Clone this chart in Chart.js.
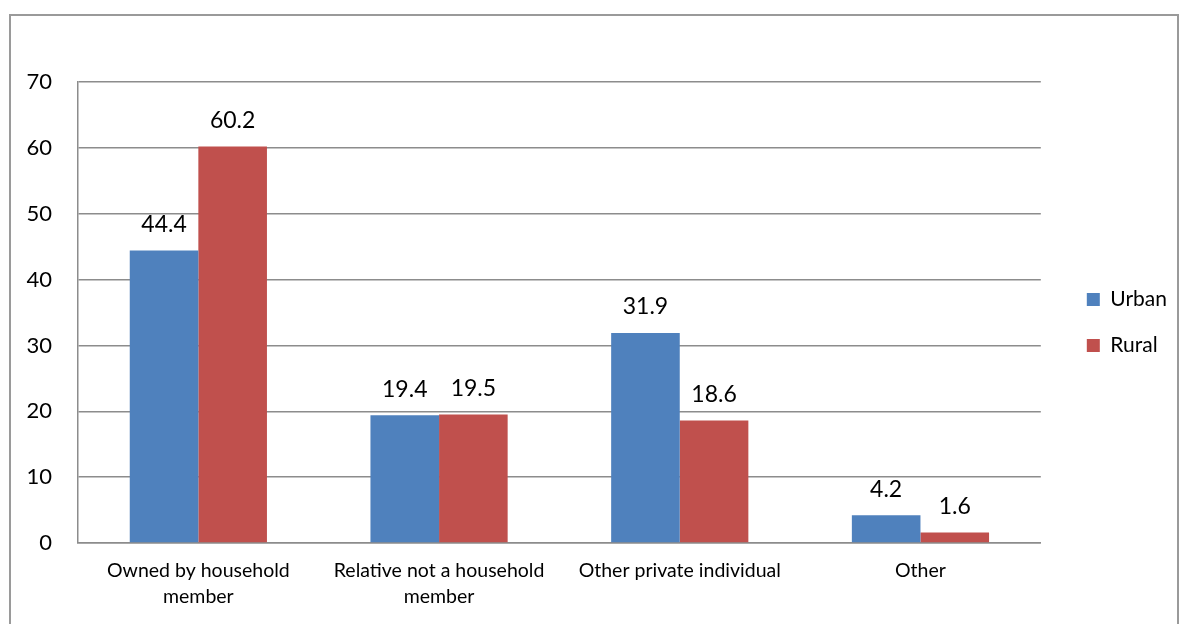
<!DOCTYPE html>
<html>
<head>
<meta charset="utf-8">
<script src="https://cdn.jsdelivr.net/npm/chart.js@4"></script>
<style>
  html, body { margin: 0; padding: 0; background: #fff; }
  #frame { position: absolute; left: 9px; top: 14px; width: 1166px; height: 620px; border: 2px solid #9a9a9a; }
  #grafico { position: absolute; left: 0; top: 0; }
</style>
</head>
<body>
<div id="frame"></div>
<canvas id="grafico" width="1181" height="624"></canvas>
<script>
const categorias = [
    ['Owned by household', 'member'],
    ['Relative not a household', 'member'],
    'Other private individual',
    'Other',
];
const urbano = [44.4, 19.4, 31.9, 4.2];
const rural = [60.2, 19.5, 18.6, 1.6];
const ticksY = [0, 10, 20, 30, 40, 50, 60, 70];

const fuente = 'Lato, "Open Sans", sans-serif';
const gris = '#8c8c8c';

// etiquetas de valor encima de cada barra
const etiquetas = {
    id: 'etiquetas',
    afterDatasetsDraw(chart) {
        const ctx = chart.ctx;
        ctx.save();
        ctx.font = `23px ${fuente}`;
        ctx.fillStyle = '#000';
        ctx.textAlign = 'center';
        ctx.textBaseline = 'middle';
        chart.data.datasets.forEach((ds, i) => {
            chart.getDatasetMeta(i).data.forEach((bar, j) => {
                ctx.fillText(ds.data[j].toFixed(1), bar.x, bar.y - 26);
            });
        });
        ctx.restore();
    },
};

new Chart(document.querySelector('#grafico'), {
    type: 'bar',
    data: {
        labels: categorias,
        datasets: [
            { label: 'Urban', data: urbano, backgroundColor: '#4F81BD', yAxisID: 'y' },
            { label: 'Rural', data: rural, backgroundColor: '#C0504D', yAxisID: 'y' },
        ],
    },
    options: {
        responsive: false,
        animation: false,
        layout: { padding: { top: 82, left: 0, right: 4, bottom: 0 } },
        categoryPercentage: 0.57,
        barPercentage: 1,
        plugins: {
            tooltip: { enabled: false },
            legend: {
                position: 'right',
                fullSize: false,
                title: { display: true, text: ' ', font: { size: 2, lineHeight: 1 }, padding: { top: 9, bottom: 9 } },
                labels: {
                    boxWidth: 13,
                    boxHeight: 13,
                    padding: 25,
                    color: '#000',
                    font: { family: fuente, size: 21 },
                },
            },
        },
        scales: {
            x: {
                grid: { display: false, drawTicks: false },
                border: { display: true, color: gris, width: 1.5 },
                ticks: { color: '#000', padding: 15, font: { family: fuente, size: 19.5, lineHeight: 1.33 } },
                afterFit(scale) { scale.height = 81; },
            },
            y: {
                min: 0,
                max: 70,
                afterBuildTicks(scale) { scale.ticks = ticksY.map((v) => ({ value: v })); },
                grid: { color: gris, lineWidth: 1.5, drawTicks: false },
                border: { display: true, color: gris, width: 1.5 },
                ticks: { color: '#000', padding: 26, font: { family: fuente, size: 22 } },
                afterFit(scale) { scale.width = 78; },
            },
            hueco: {
                position: 'right',
                display: true,
                grid: { display: false, drawTicks: false },
                border: { display: false },
                ticks: { display: false },
                afterFit(scale) { scale.width = 21; },
            },
        },
    },
    plugins: [etiquetas],
});
</script>
</body>
</html>
